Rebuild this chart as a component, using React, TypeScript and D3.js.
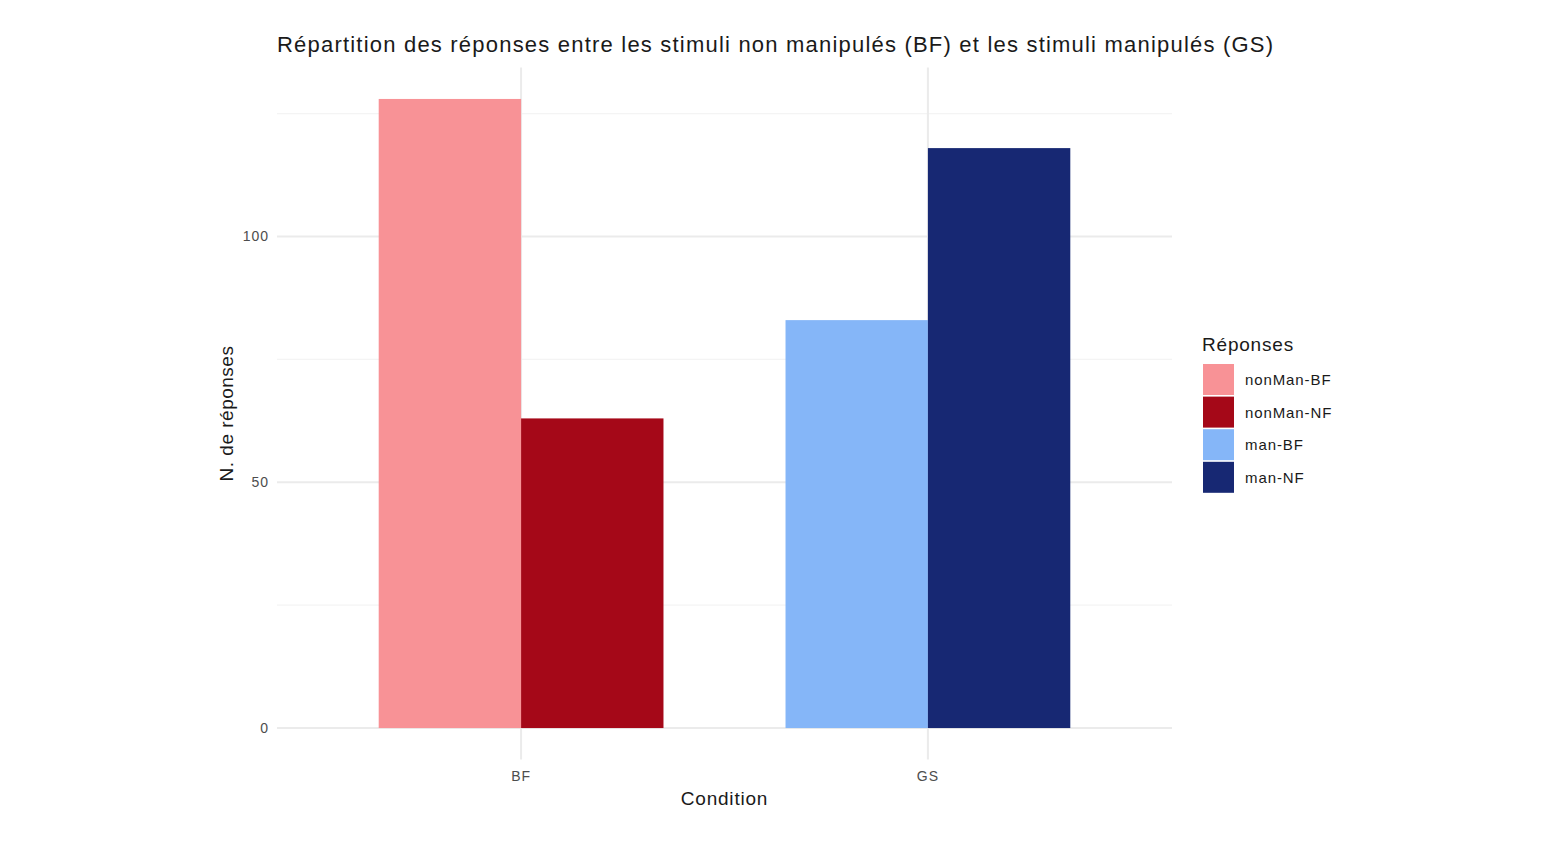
import React from "react";
import * as d3 from "d3";

const conditions = ["BF", "GS"];
const responses = ["nonMan-BF", "nonMan-NF", "man-BF", "man-NF"];
const responseColors = ["#f89296", "#a50818", "#85b6f8", "#172873"];
// one row per bar: condition, response group, count
const barCondition = ["BF", "BF", "GS", "GS"];
const barResponse = ["nonMan-BF", "nonMan-NF", "man-BF", "man-NF"];
const barCount = [128, 63, 83, 118];
const yTicks = [0, 50, 100];
const yMinor = [25, 75, 125];

const W = 1563;
const H = 843;
const font = "'Liberation Sans', Arial, Helvetica, sans-serif";

export default function App() {
    const left = 277, right = 1172, top = 67.5, bottom = 759.5;

    // ggplot-like discrete expansion: 0.6 units on each side
    const xPos = d3.scaleLinear().domain([0.4, conditions.length + 0.6]).range([left, right]);
    const yMax = d3.max(barCount)!;
    const y = d3.scaleLinear().domain([-yMax * 0.05, yMax * 1.05]).range([bottom, top]);
    const color = d3.scaleOrdinal<string, string>().domain(responses).range(responseColors);

    const barW = 0.7;
    const bars = barCount.map((v, i) => {
        const ci = conditions.indexOf(barCondition[i]) + 1;
        const groupRows = barCondition.filter(c => c === barCondition[i]).length;
        const idx = barCondition.slice(0, i).filter(c => c === barCondition[i]).length;
        const w = barW / groupRows;
        const x0 = ci - barW / 2 + idx * w;
        return {
            x: xPos(x0),
            w: xPos(x0 + w) - xPos(x0),
            y: y(v),
            h: y(0) - y(v),
            fill: color(barResponse[i]),
        };
    });

    const grid = "#ebebeb";
    return (
        <svg width={W} height={H} style={{ position: "absolute", left: 0, top: 0, display: "block", background: "#fff" }} fontFamily={font}>
            {yMinor.map(t => (
                <line key={"m" + t} x1={left} x2={right} y1={y(t)} y2={y(t)} stroke="#f4f4f4" strokeWidth={1.2} />
            ))}
            {yTicks.map(t => (
                <line key={"g" + t} x1={left} x2={right} y1={y(t)} y2={y(t)} stroke={grid} strokeWidth={2} />
            ))}
            {conditions.map((c, i) => (
                <line key={"v" + c} x1={xPos(i + 1)} x2={xPos(i + 1)} y1={top} y2={bottom} stroke={grid} strokeWidth={2} />
            ))}
            {bars.map((b, i) => (
                <rect key={i} x={b.x} y={b.y} width={b.w} height={b.h} fill={b.fill} />
            ))}
            {yTicks.map(t => (
                <text key={"t" + t} x={269} y={y(t)} dy="0.35em" textAnchor="end" fontSize={14} letterSpacing={1} fill="#4d4d4d">{t}</text>
            ))}
            {conditions.map((c, i) => (
                <text key={"x" + c} x={xPos(i + 1)} y={776} dy="0.35em" textAnchor="middle" fontSize={14} letterSpacing={1} fill="#4d4d4d">{c}</text>
            ))}
            <text x={(left + right) / 2} y={798} dy="0.35em" textAnchor="middle" fontSize={19} letterSpacing={0.8} fill="#1a1a1a">Condition</text>
            <text transform={`translate(226,${(top + bottom) / 2}) rotate(-90)`} dy="0.35em" textAnchor="middle" fontSize={19} letterSpacing={0.5} fill="#1a1a1a">N. de réponses</text>
            <text x={277} y={44} dy="0.35em" fontSize={22} textLength={996} lengthAdjust="spacing" fill="#1a1a1a">Répartition des réponses entre les stimuli non manipulés (BF) et les stimuli manipulés (GS)</text>
            <text x={1202} y={344} dy="0.35em" fontSize={19} letterSpacing={0.8} fill="#1a1a1a">Réponses</text>
            {responses.map((r, i) => (
                <g key={r} transform={`translate(1203,${364 + i * 32.6})`}>
                    <rect x={0} y={0} width={31} height={31} fill={color(r)} />
                    <text x={42} y={16} dy="0.35em" fontSize={15} letterSpacing={0.9} fill="#1a1a1a">{r}</text>
                </g>
            ))}
        </svg>
    );
}
